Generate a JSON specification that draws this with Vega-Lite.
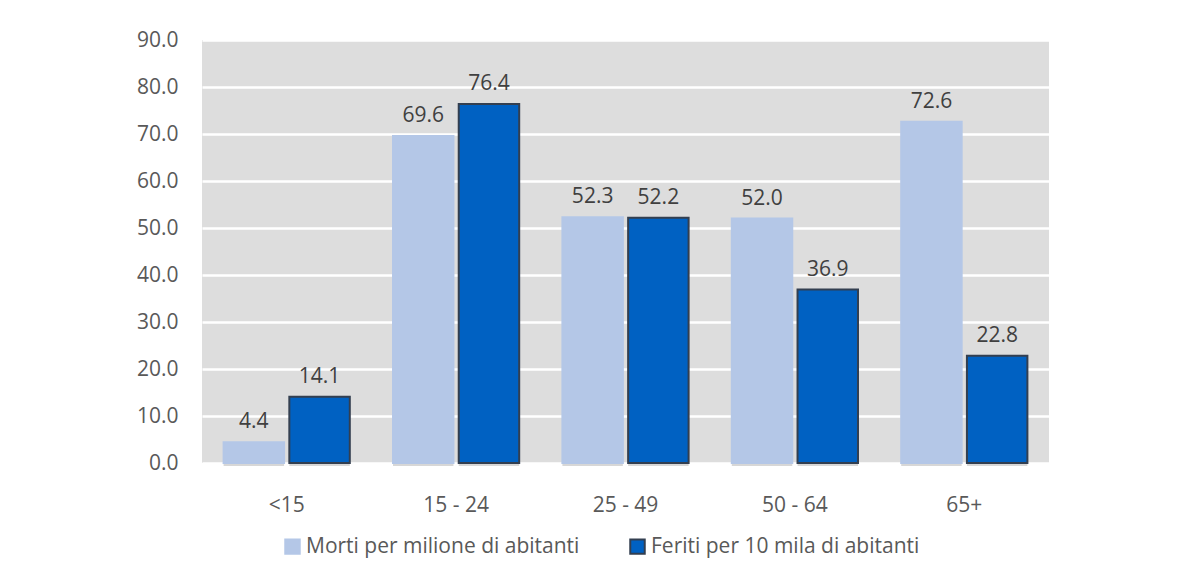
{
  "$schema": "https://vega.github.io/schema/vega-lite/v6.json",
  "autosize": "none",
  "width": 847,
  "height": 423,
  "padding": {"left": 202, "top": 40, "right": 138, "bottom": 123},
  "background": "white",
  "data": {
    "values": [
      {"eta": "<15", "serie": "Morti per milione di abitanti", "valore": 4.4},
      {"eta": "<15", "serie": "Feriti per 10 mila di abitanti", "valore": 14.1},
      {"eta": "15 - 24", "serie": "Morti per milione di abitanti", "valore": 69.6},
      {"eta": "15 - 24", "serie": "Feriti per 10 mila di abitanti", "valore": 76.4},
      {"eta": "25 - 49", "serie": "Morti per milione di abitanti", "valore": 52.3},
      {"eta": "25 - 49", "serie": "Feriti per 10 mila di abitanti", "valore": 52.2},
      {"eta": "50 - 64", "serie": "Morti per milione di abitanti", "valore": 52.0},
      {"eta": "50 - 64", "serie": "Feriti per 10 mila di abitanti", "valore": 36.9},
      {"eta": "65+", "serie": "Morti per milione di abitanti", "valore": 72.6},
      {"eta": "65+", "serie": "Feriti per 10 mila di abitanti", "valore": 22.8}
    ]
  },
  "encoding": {
    "x": {
      "field": "eta", "type": "nominal", "sort": null,
      "scale": {"paddingInner": 0.255, "paddingOuter": 0.1275},
      "axis": {"title": null, "labelAngle": 0, "labelFontSize": 21, "labelColor": "#595959", "labelPadding": 31, "ticks": false, "domain": false, "labelFont": "Open Sans"}
    },
    "xOffset": {
      "field": "serie", "type": "nominal", "sort": ["Morti per milione di abitanti", "Feriti per 10 mila di abitanti"],
      "scale": {"paddingInner": 0.08}
    },
    "y": {
      "field": "valore", "type": "quantitative",
      "scale": {"domain": [0, 90], "nice": false},
      "axis": {"title": null, "values": [0,10,20,30,40,50,60,70,80,90], "format": ".1f", "labelFontSize": 21, "labelColor": "#595959", "labelPadding": 24, "ticks": false, "domain": false, "gridColor": "white", "gridWidth": 2.5, "labelFont": "Open Sans", "labelOverlap": false}
    }
  },
  "layer": [
    {
      "mark": {"type": "bar", "fill": "#a6a6a6", "opacity": 0.45, "xOffset": 4, "yOffset": 3, "strokeWidth": 0}
    },
    {
      "mark": {"type": "bar", "strokeWidth": 2},
      "encoding": {
        "color": {
          "field": "serie", "type": "nominal", "sort": ["Morti per milione di abitanti", "Feriti per 10 mila di abitanti"],
          "scale": {"range": ["#b4c7e7", "#0061c2"]},
          "legend": {
            "title": null, "orient": "none", "legendX": 80, "legendY": 496, "direction": "horizontal", "symbolType": "square", "symbolSize": 210,
            "labelFontSize": 21, "labelColor": "#595959", "labelFont": "Open Sans", "labelLimit": 500, "labelOffset": 3,
            "columnPadding": 46, "symbolStrokeWidth": 2,
            "encode": {"symbols": {"update": {"stroke": {"signal": "datum.value === 'Feriti per 10 mila di abitanti' ? '#333f50' : '#b4c7e7'"}}}}
          }
        },
        "stroke": {
          "field": "serie", "type": "nominal", "sort": ["Morti per milione di abitanti", "Feriti per 10 mila di abitanti"],
          "scale": {"range": ["#b4c7e7", "#333f50"]},
          "legend": null
        }
      }
    },
    {
      "mark": {"type": "text", "baseline": "bottom", "dy": -10, "fontSize": 21, "color": "#404040", "font": "Open Sans"},
      "encoding": {
        "text": {"field": "valore", "type": "quantitative", "format": ".1f"}
      }
    }
  ],
  "config": {
    "view": {"fill": "#dddddd", "stroke": null}
  }
}
